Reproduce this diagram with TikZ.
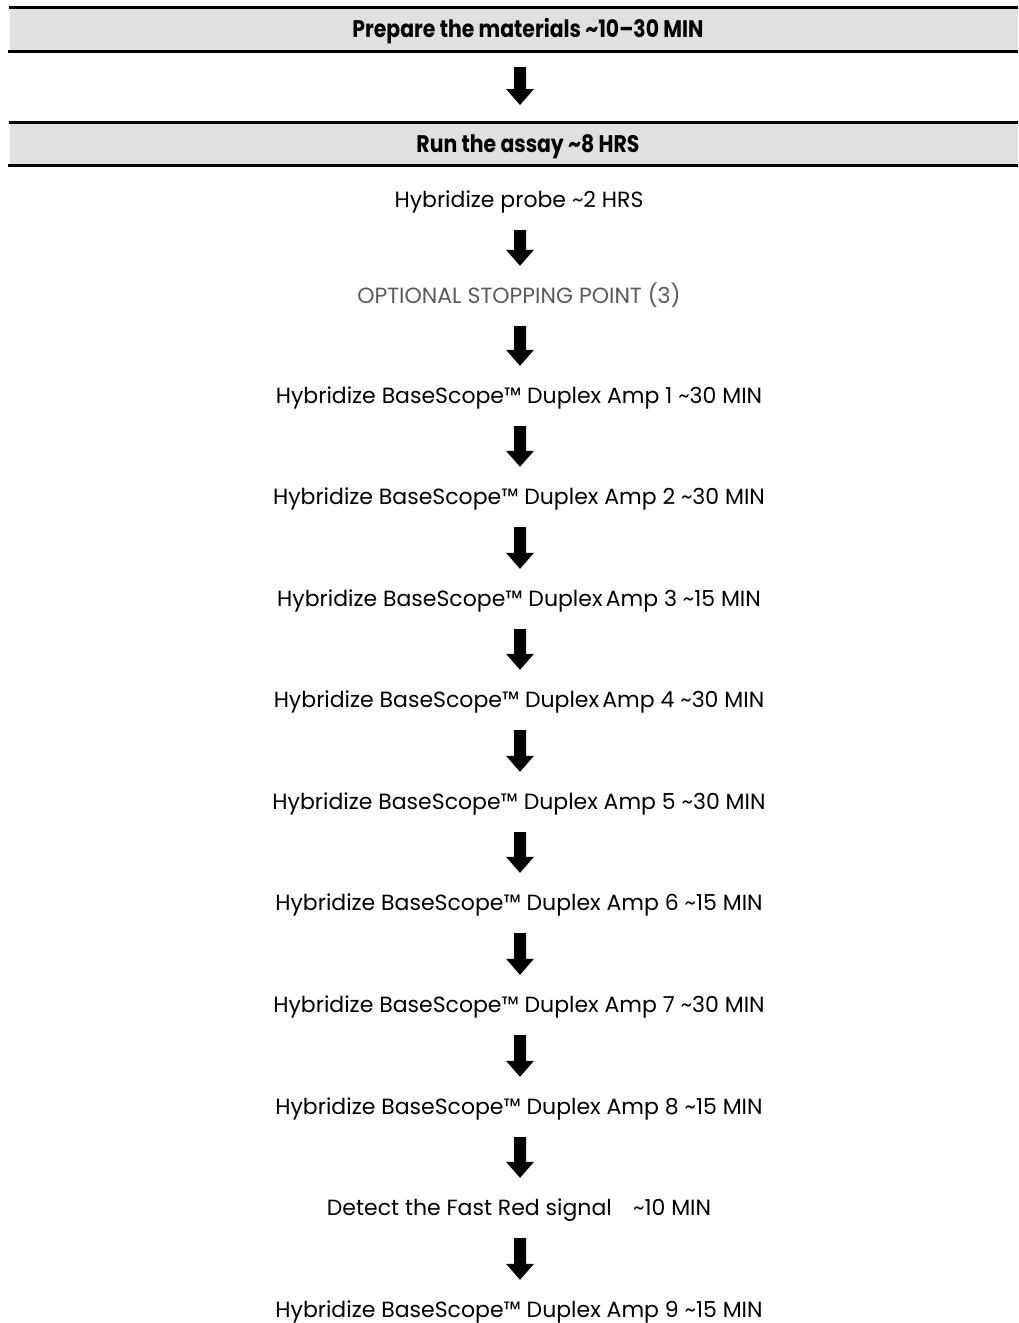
\documentclass[tikz,border=0pt]{standalone}
\usepackage{fontspec}
\setmainfont{Poppins}
\newfontfamily\hdfont[FakeStretch=0.85]{Poppins}
\usetikzlibrary{calc}
\definecolor{barfill}{HTML}{E0E0E0}
\definecolor{optgray}{HTML}{5A5A5A}
\newcommand{\tl}{\textasciitilde}
\tikzset{
  bartext/.style={font=\hdfont\bfseries\fontsize{24}{28}\selectfont, inner sep=0pt, text height=17pt, text depth=0pt},
  steptext/.style={font=\fontsize{22}{26}\selectfont, inner sep=0pt, text height=15.5pt, text depth=0pt, minimum height=60pt},
  barline/.style={line width=3pt},
  blockarrow/.style={fill=black, to path={
    let \p1=(\tikztostart), \p2=(\tikztotarget) in
    (\x1-6pt,\y1) -- (\x1+6pt,\y1) -- (\x1+6pt,\y2+16pt) -- (\x1+14pt,\y2+16pt) -- (\x1,\y2)
    -- (\x1-14pt,\y2+16pt) -- (\x1-6pt,\y2+16pt) -- cycle}}
}
\begin{document}
\begin{tikzpicture}[x=1pt,y=-1pt]
\useasboundingbox (0,0) rectangle (1018,1323);
% bar 1
\fill[barfill] (10,7) rectangle (1018,51);
\draw[barline] (9,7) -- (1018,7);
\draw[barline] (8,51) -- (1018,51);
\node[bartext] (bar1) at (528,29) {Prepare the materials \tl10–30 MIN};
% bar 2
\fill[barfill] (10,122) rectangle (1018,165);
\draw[barline] (9,122) -- (1018,122);
\draw[barline] (8,165) -- (1018,165);
\node[bartext] (bar2) at (528,144) {Run the assay \tl8 HRS};
\coordinate (b1) at (520,67);
\coordinate (b2) at (520,105);
\fill[blockarrow] (b1) to (b2);
% steps
\node[steptext] (probe) at (519,200) {Hybridize probe \tl2 HRS};
\node[steptext, text=optgray] (opt) at (519,296) {OPTIONAL STOPPING POINT (3)};
\node[steptext] (amp1) at (519,396) {Hybridize BaseScope™ Duplex Amp 1 \tl30 MIN};
\node[steptext] (amp2) at (519,497) {Hybridize BaseScope™ Duplex Amp 2 \tl30 MIN};
\node[steptext] (amp3) at (519,599) {Hybridize BaseScope™ Duplex\hspace{-0.12em} Amp 3 \tl15 MIN};
\node[steptext] (amp4) at (519,700) {Hybridize BaseScope™ Duplex\hspace{-0.12em} Amp 4 \tl30 MIN};
\node[steptext] (amp5) at (519,802) {Hybridize BaseScope™ Duplex Amp 5 \tl30 MIN};
\node[steptext] (amp6) at (519,903) {Hybridize BaseScope™ Duplex Amp 6 \tl15 MIN};
\node[steptext] (amp7) at (519,1005) {Hybridize BaseScope™ Duplex Amp 7 \tl30 MIN};
\node[steptext] (amp8) at (519,1107) {Hybridize BaseScope™ Duplex Amp 8 \tl15 MIN};
\node[steptext] (detect) at (519,1208) {Detect the Fast Red signal\hspace{0.7em} \tl10 MIN};
\node[steptext] (amp9) at (519,1310) {Hybridize BaseScope™ Duplex Amp 9 \tl15 MIN};
\foreach \a/\b in {probe/opt, opt/amp1, amp1/amp2, amp2/amp3, amp3/amp4, amp4/amp5, amp5/amp6, amp6/amp7, amp7/amp8, amp8/detect, detect/amp9}
  \fill[blockarrow] ([xshift=1pt]\a.south) to ([xshift=1pt]\b.north);
\end{tikzpicture}
\end{document}
